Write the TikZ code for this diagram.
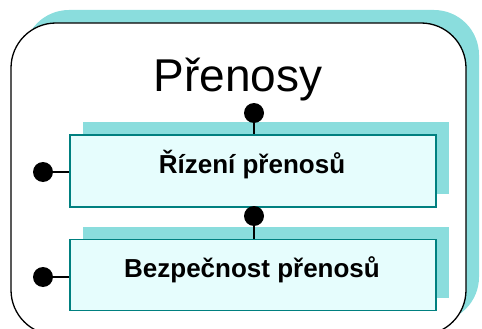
\documentclass[tikz,border=0pt]{standalone}
\usepackage{fontspec}
\setmainfont{Liberation Sans}
\definecolor{shadowc}{RGB}{138,221,221}
\definecolor{boxfill}{RGB}{230,253,253}
\definecolor{boxline}{RGB}{0,128,128}
\tikzset{
  boxnode/.style={draw=boxline, line width=1.5pt, fill=boxfill, minimum width=366pt, minimum height=71pt, inner sep=0pt},
  boxshadow/.style={fill=shadowc, draw=none, minimum width=366pt, minimum height=71pt, inner sep=0pt},
  dotnode/.style={circle, fill=black, minimum size=20pt, inner sep=0pt},
  conn/.style={line width=1.4pt, black},
  boxlabel/.style={font=\fontsize{26pt}{28pt}\selectfont\bfseries, anchor=base}
}
\begin{document}
\begin{tikzpicture}[x=1pt,y=-1pt]
\useasboundingbox (0,0) rectangle (482,329);
\clip (0,0) rectangle (482,329);
% outer container shadow and frame
\fill[shadowc, rounded corners=45pt] (24,10) rectangle (479,322);
\draw[line width=1.3pt, fill=white, rounded corners=45pt] (11,23) rectangle (466,335);
% title
\node[font=\fontsize{46pt}{48pt}\selectfont, anchor=base] (title) at (238,92) {Přenosy};
% box shadows
\node[boxshadow, minimum height=72pt] (s1) at (266,158) {};
\node[boxshadow] (s2) at (266,262) {};
% boxes
\node[boxnode, minimum height=72pt] (b1) at (253,171) {};
\node[boxnode] (b2) at (253,275) {};
\node[boxlabel] (t1) at (252,173) {Řízení přenosů};
\node[boxlabel] (t2) at (252,277) {Bezpečnost přenosů};
% dots and connectors
\node[dotnode] (d1) at (254,113) {};
\node[dotnode] (d2) at (254,216) {};
\node[dotnode] (l1) at (43,172) {};
\node[dotnode] (l2) at (43,277) {};
\draw[conn] (d1) -- (d1 |- b1.north);
\draw[conn] (d2) -- (d2 |- b2.north);
\draw[conn] (l1) -- (l1 -| b1.west);
\draw[conn] (l2) -- (l2 -| b2.west);
\end{tikzpicture}
\end{document}
